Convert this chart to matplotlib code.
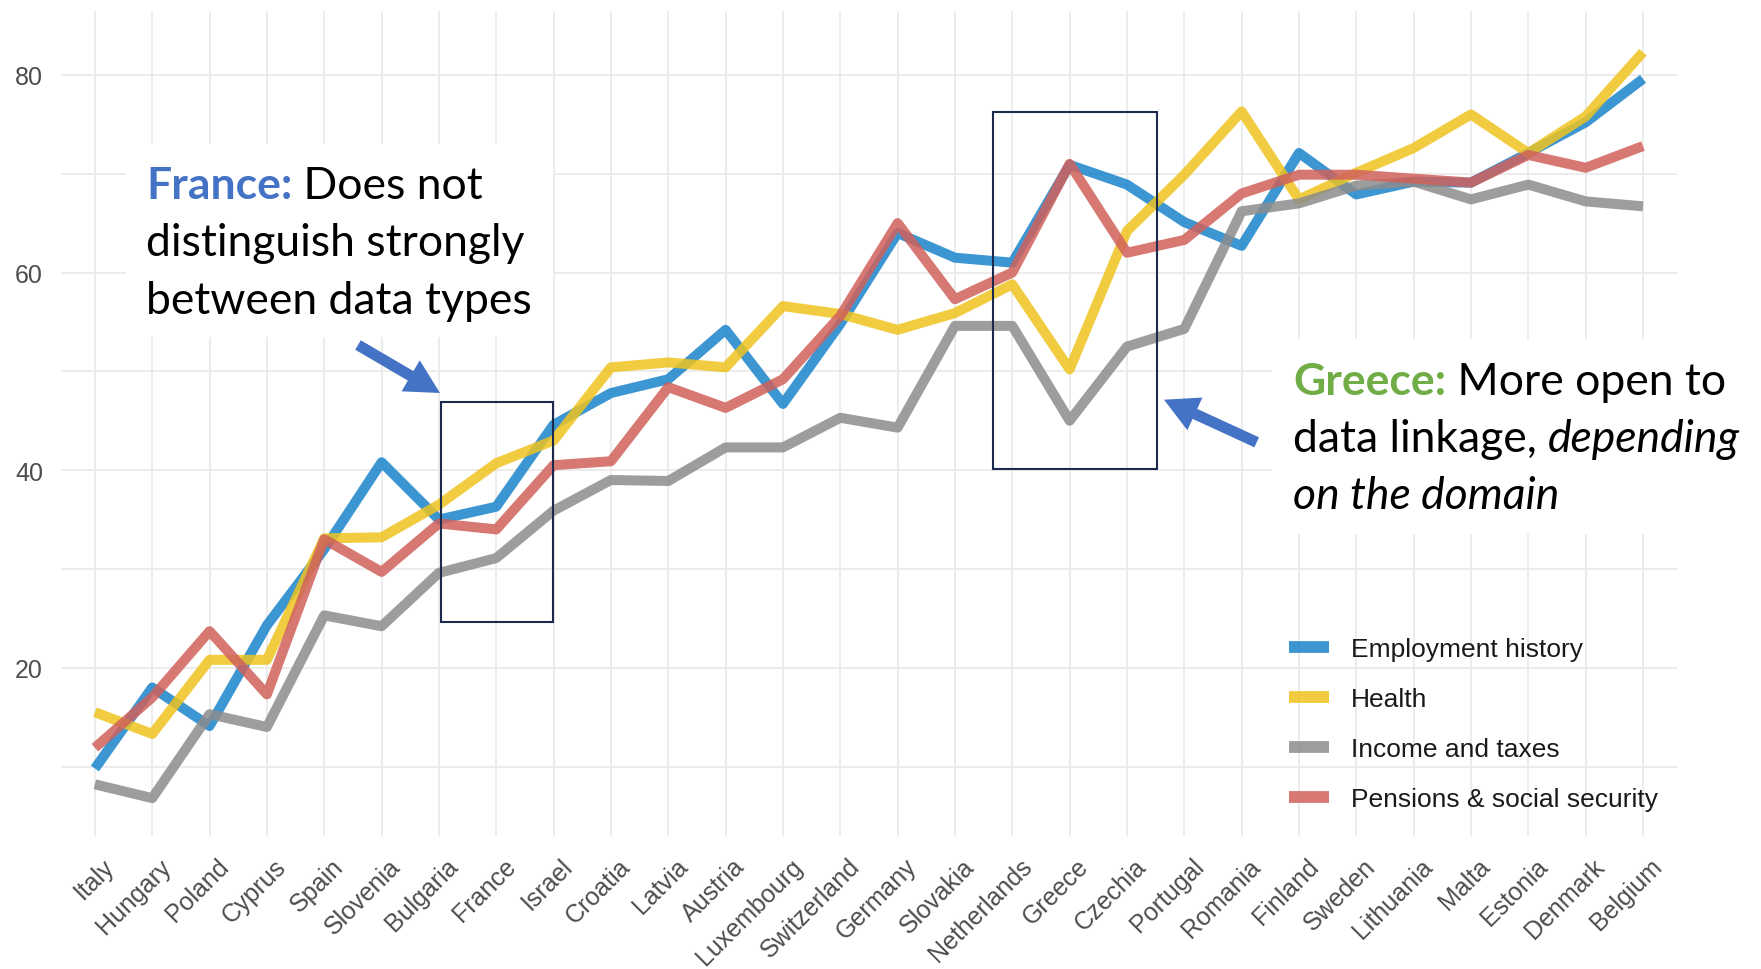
import matplotlib
matplotlib.use("Agg")
import matplotlib.pyplot as plt
import matplotlib.transforms as mtransforms
from matplotlib.patches import Rectangle, FancyArrow
from matplotlib.lines import Line2D

# ---------------- data ----------------
countries = ["Italy", "Hungary", "Poland", "Cyprus", "Spain", "Slovenia", "Bulgaria",
             "France", "Israel", "Croatia", "Latvia", "Austria", "Luxembourg",
             "Switzerland", "Germany", "Slovakia", "Netherlands", "Greece", "Czechia",
             "Portugal", "Romania", "Finland", "Sweden", "Lithuania", "Malta",
             "Estonia", "Denmark", "Belgium"]

employment = [9.8, 18.0, 14.1, 24.3, 32.0, 40.8, 35.0, 36.3, 44.6, 47.8, 49.2, 54.2,
              46.7, 54.8, 64.0, 61.5, 61.0, 70.9, 68.9, 65.1, 62.7, 72.1, 67.9, 69.2,
              69.1, 72.1, 75.2, 79.6]
health = [15.5, 13.3, 20.8, 20.8, 33.1, 33.2, 36.5, 40.7, 43.0, 50.4, 50.9, 50.4,
          56.6, 55.8, 54.2, 55.9, 58.8, 50.2, 64.2, 69.9, 76.3, 67.4, 70.1, 72.6,
          76.0, 72.1, 75.8, 82.3]
income = [8.2, 6.8, 15.3, 14.0, 25.3, 24.2, 29.6, 31.1, 35.9, 39.0, 38.9, 42.3,
          42.3, 45.3, 44.3, 54.6, 54.6, 45.0, 52.5, 54.3, 66.2, 67.0, 68.8, 69.2,
          67.4, 68.9, 67.2, 66.7]
pensions = [11.9, 17.0, 23.7, 17.3, 33.0, 29.7, 34.6, 34.0, 40.5, 40.9, 48.4, 46.3,
            49.2, 55.6, 65.0, 57.3, 60.0, 71.0, 62.0, 63.3, 68.0, 69.9, 69.9, 69.5,
            69.1, 71.9, 70.6, 72.8]

series_names = ["Employment history", "Health", "Income and taxes",
                "Pensions & social security"]
series_values = [employment, health, income, pensions]
series_colors = ["#1a84cb", "#efc31e", "#8c8c8c", "#d0615b"]

y_major = [20, 40, 60, 80]
y_minor = [10, 30, 50, 70]

# highlight boxes (category index / value units)
france_box = (6.03, 7.99, 24.6, 46.9)
greece_box = (15.66, 18.52, 40.1, 76.2)

# ---------------- figure ----------------
W, H, DPI = 1761, 970, 100
fig = plt.figure(figsize=(W / DPI, H / DPI), dpi=DPI)
fig.patch.set_facecolor("white")

L, R, T, B = 60.5, 1677.4, 11.7, 836.7
ax = fig.add_axes([L / W, 1 - B / H, (R - L) / W, (B - T) / H])

xs = list(range(len(countries)))
for name, vals, col in zip(series_names, series_values, series_colors):
    ax.plot(xs, vals, color=col, lw=7.2, alpha=0.85, label=name,
            solid_joinstyle="round", solid_capstyle="butt", zorder=3)

ax.set_xlim(-0.6, len(countries) - 1 + 0.6)
ax.set_ylim(3.0, 86.5)
ax.set_yticks(y_major)
ax.set_yticks(y_minor, minor=True)
ax.set_xticks(xs)
ax.set_xticklabels(countries, rotation=45, ha="right", va="top",
                   rotation_mode="anchor", fontsize=18, color="#4d4d4d",
                   family="Liberation Sans")
for lab in ax.get_yticklabels():
    lab.set_family("Liberation Sans")
ax.tick_params(axis="y", which="both", length=0, labelsize=18, labelcolor="#4d4d4d",
               pad=12.6)
ax.tick_params(axis="x", which="both", length=0, pad=13.0)
offset = mtransforms.ScaledTranslation(7 / DPI, 0, fig.dpi_scale_trans)
for lab in ax.get_xticklabels():
    lab.set_transform(lab.get_transform() + offset)

ax.grid(True, which="major", axis="both", color="#ebebeb", lw=1.3, zorder=0)
ax.grid(True, which="minor", axis="y", color="#ebebeb", lw=1.3, zorder=0)
ax.set_axisbelow(True)
for s in ax.spines.values():
    s.set_visible(False)

for (x0, x1, y0, y1) in (france_box, greece_box):
    ax.add_patch(Rectangle((x0, y0), x1 - x0, y1 - y0, fill=False,
                           edgecolor="#1c2b4d", lw=1.5, zorder=5, clip_on=False))

handles = [Line2D([], [], color=c, lw=8.5, alpha=0.85, solid_capstyle="butt")
           for c in series_colors]
fs_leg = 19
leg = ax.legend(handles, series_names, loc="upper left",
                bbox_to_anchor=(1289 / W, 1 - 638 / H),
                bbox_transform=fig.transFigure, frameon=False,
                prop={"family": "Liberation Sans", "size": fs_leg},
                handlelength=40 / (fs_leg * DPI / 72), handletextpad=0.83,
                labelspacing=0.99, borderpad=0, borderaxespad=0)
for t in leg.get_texts():
    t.set_color("#1a1a1a")

# ---------------- overlay annotations (pixel coordinates) ----------------
ov = fig.add_axes([0, 0, 1, 1], zorder=10)
ov.set_xlim(0, W)
ov.set_ylim(H, 0)
ov.set_axis_off()

ov.add_patch(Rectangle((126, 145), 553 - 126, 338 - 145, facecolor="white",
                       edgecolor="none", zorder=1))
ov.add_patch(Rectangle((1272, 340), W - 1272, 535 - 340, facecolor="white",
                       edgecolor="none", zorder=1))

renderer = fig.canvas.get_renderer()
ann_font = "Lato"
ann_size = 32


def rich_line(x, y, parts):
    for txt, kw in parts:
        t = ov.text(x, y, txt, va="baseline", ha="left", fontsize=ann_size,
                    family=ann_font, zorder=3, **kw)
        bb = t.get_window_extent(renderer=renderer)
        x += bb.width


blue_t = "#4472c4"
green_t = "#70ad47"
rich_line(146, 199, [("France:", dict(color=blue_t, weight="bold")),
                     (" Does not", dict(color="black"))])
rich_line(146, 256.5, [("distinguish strongly", dict(color="black"))])
rich_line(146, 314, [("between data types", dict(color="black"))])

rich_line(1293, 395, [("Greece:", dict(color=green_t, weight="bold")),
                      (" More open to", dict(color="black"))])
rich_line(1293, 452, [("data linkage, ", dict(color="black")),
                      ("depending", dict(color="black", style="italic"))])
rich_line(1293, 509, [("on the domain", dict(color="black", style="italic"))])

arrow_kw = dict(width=11, head_width=36, head_length=34, length_includes_head=True,
                color="#4472c4", lw=0, zorder=4)
ov.add_patch(FancyArrow(358, 346, 440 - 358, 394 - 346, **arrow_kw))
ov.add_patch(FancyArrow(1256.7, 443.3, 1164 - 1256.7, 400.7 - 443.3, **arrow_kw))

fig.savefig("out.png", dpi=DPI, facecolor="white")
